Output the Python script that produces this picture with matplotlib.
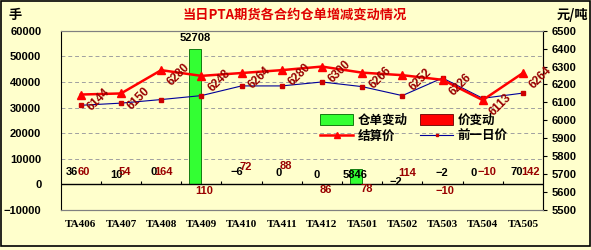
import matplotlib
matplotlib.use("Agg")
import matplotlib.pyplot as plt
from matplotlib.patches import Rectangle
from matplotlib.lines import Line2D
from matplotlib.patches import Patch
import numpy as np

plt.rcParams['font.family'] = ['Noto Sans CJK SC', 'DejaVu Sans']

categories = ["TA406", "TA407", "TA408", "TA409", "TA410", "TA411",
              "TA412", "TA501", "TA502", "TA503", "TA504", "TA505"]
warrant_change = [36, 10, 0, 52708, -6, 0, 0, 5846, -2, -2, 0, 70]
price_change = [60, 54, 164, 110, 72, 88, 86, 78, 114, -10, -10, 142]
settle_price = [6144, 6150, 6280, 6248, 6264, 6280, 6300, 6266, 6252, 6226, 6113, 6264]
prev_price = [6084, 6096, 6116, 6138, 6192, 6192, 6214, 6188, 6138, 6236, 6123, 6152]

left_ticks = [-10000, 0, 10000, 20000, 30000, 40000, 50000, 60000]
right_ticks = [5500, 5600, 5700, 5800, 5900, 6000, 6100, 6200, 6300, 6400, 6500]

# label offsets in pixels (style)
warrant_lbl_off = [(-3, 12), (1, 9.5), (-2, 12), (0, 11), (1, 12), (3, 11),
                   (1, 9.5), (-1, -5.5), (0, 2.5), (5, 11), (-3, 11), (0, 12)]
price_lbl_off = [(-3, 12), (-2, 12), (-4, 12), (-3, -7), (-2, 17), (-2, 18),
                 (-2, -6), (-1, -5), (-1, 11), (-4, -7), (-2, 12), (2, 12)]

BG = "#FFFFCC"
DPI = 100
fig = plt.figure(figsize=(5.91, 2.50), dpi=DPI, facecolor=BG)
ax = fig.add_axes([60.7 / 591, 40 / 250, 482.3 / 591, 179.3 / 250])
ax.set_facecolor(BG)
ax2 = ax.twinx()

x = np.arange(len(categories))
bw = 0.3
ax.bar(x - bw / 2, warrant_change, width=bw, color="#33FF33", edgecolor="#006600", linewidth=0.6, zorder=3)
ax.bar(x + bw / 2, price_change, width=bw, color="#FF0000", edgecolor="#660000", linewidth=0.6, zorder=3)

ax.set_xlim(-0.5, len(categories) - 0.5)
ax.set_ylim(-10000, 60000)
ax.set_yticks(left_ticks)
ax.set_yticklabels([f"{t}".replace("-", "\u2212") for t in left_ticks])
for t in [10000, 20000, 30000, 40000, 50000]:
    ax.axhline(t, color="#A0A0A0", linestyle=(0, (4, 3)), linewidth=0.7, zorder=1)
ax.axhline(0, color="black", linewidth=1.0, zorder=4)
ax.vlines(x[:-1] + 0.5, 0, 1500, color="black", linewidth=0.8, zorder=4)

ax.set_xticks(x)
ax.set_xticklabels(categories)
ax.tick_params(axis='x', length=0, pad=7)
ax.tick_params(axis='y', length=0, pad=14)
for lbl in ax.get_xticklabels():
    lbl.set_fontfamily("Liberation Serif")
    lbl.set_fontweight("bold")
    lbl.set_fontsize(8)
for lbl in ax.get_yticklabels():
    lbl.set_fontfamily("Liberation Sans")
    lbl.set_fontweight("bold")
    lbl.set_fontsize(8)

for s in ["top", "right", "bottom"]:
    ax.spines[s].set_color("#808080")
    ax2.spines[s].set_color("#808080")
ax.spines["left"].set_color("black")
ax2.spines["left"].set_visible(False)
ax2.spines["right"].set_color("black")

ax2.plot(x, settle_price, color="#FF0000", linewidth=1.8, marker="^", markersize=5.5, zorder=6)
ax2.plot(x, prev_price, color="#000099", linewidth=0.8, marker="s", markersize=2.5,
         markerfacecolor="#CC0000", markeredgecolor="#CC0000", zorder=5)
ax2.set_ylim(5500, 6500)
ax2.set_yticks(right_ticks)
ax2.tick_params(axis='y', length=3, direction='out', pad=3)
for lbl in ax2.get_yticklabels():
    lbl.set_fontfamily("Liberation Sans")
    lbl.set_fontweight("bold")
    lbl.set_fontsize(8)

for i, v in enumerate(settle_price):
    ax2.annotate(str(v), (x[i], v), xytext=(18, -5), textcoords="offset pixels",
                 rotation=45, ha="center", va="center", color="#990000",
                 fontsize=8.5, fontweight="bold", fontfamily="Liberation Sans", zorder=7)

for i, v in enumerate(warrant_change):
    dx, dy = warrant_lbl_off[i]
    ax.annotate(str(v).replace("-", "\u2212"), (x[i] - bw / 2, max(v, 0)), xytext=(dx, dy),
                textcoords="offset pixels", ha="center", va="center", color="black",
                fontsize=8, fontweight="bold", fontfamily="Liberation Sans", zorder=8,
                annotation_clip=False)
for i, v in enumerate(price_change):
    dx, dy = price_lbl_off[i]
    ax.annotate(str(v).replace("-", "\u2212"), (x[i] + bw / 2, 0), xytext=(dx, dy),
                textcoords="offset pixels", ha="center", va="center", color="#990000",
                fontsize=8, fontweight="bold", fontfamily="Liberation Sans", zorder=8,
                annotation_clip=False)

handles = [Patch(facecolor="#33FF33", edgecolor="#006600", linewidth=0.6),
           Line2D([], [], color="#FF0000", linewidth=1.8, marker="^", markersize=4),
           Patch(facecolor="#FF0000", edgecolor="#660000", linewidth=0.6),
           Line2D([], [], color="#000099", linewidth=0.8, marker="s", markersize=2,
                  markerfacecolor="#CC0000", markeredgecolor="#CC0000")]
labels = ["仓单变动", "结算价", "价变动", "前一日价"]
leg = ax.legend(handles, labels, ncol=2, loc="upper left", bbox_to_anchor=(0.515, 0.6),
                frameon=False, prop={"family": ["Noto Sans CJK SC"], "weight": "bold", "size": 9},
                handlelength=2.6, handleheight=0.9, columnspacing=1.0, labelspacing=0.25,
                handletextpad=0.4)
leg.set_zorder(9)

fig.text(295 / 591, 1 - 15 / 250, "当日PTA期货各合约仓单增减变动情况", ha="center", va="center",
         color="#E00000", fontsize=9.5, fontweight="bold")
fig.text(15 / 591, 1 - 15 / 250, "手", ha="center", va="center", color="black",
         fontsize=9.5, fontweight="bold")
fig.text(572 / 591, 1 - 15 / 250, "元/吨", ha="center", va="center", color="black",
         fontsize=9.5, fontweight="bold")

fig.patches.append(Rectangle((1 / 591, 4 / 250), 589 / 591, 245 / 250, transform=fig.transFigure,
                             fill=False, edgecolor="black", linewidth=1.2))

fig.savefig("out.png", dpi=DPI, facecolor=BG)
